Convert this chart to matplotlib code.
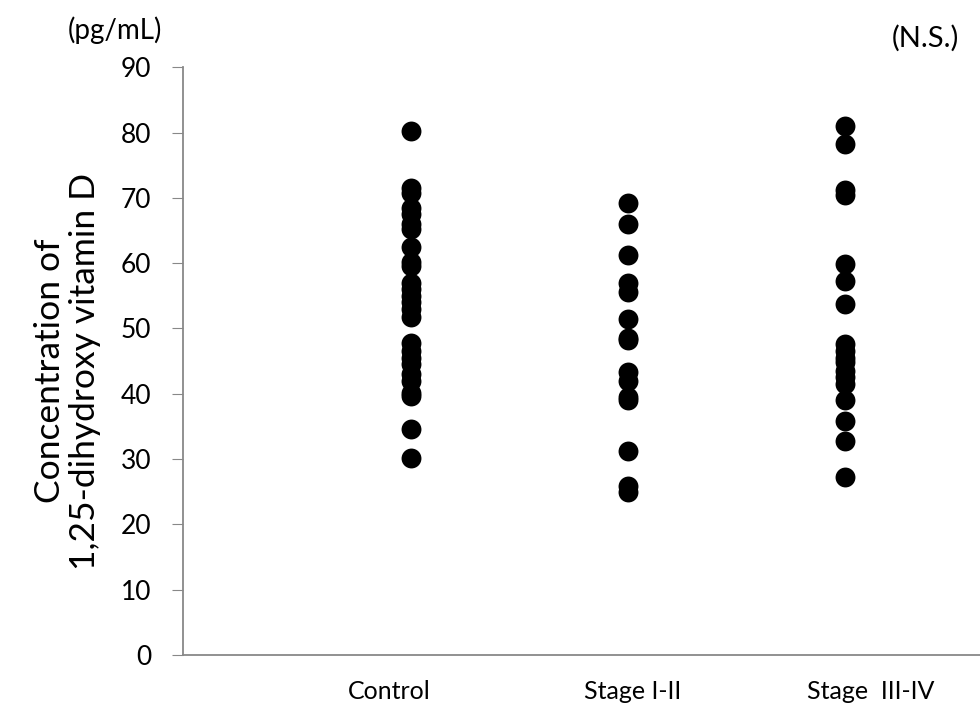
import matplotlib
matplotlib.use("Agg")
import matplotlib.pyplot as plt

# data
groups = ["Control", "Stage I-II", "Stage  III-IV"]
control = [80.3, 71.5, 70.8, 68.5, 67.5, 66.0, 65.2, 62.5, 60.2, 59.5, 57.0, 56.0, 55.0,
           54.0, 53.0, 51.7, 47.8, 46.5, 45.5, 44.5, 43.0, 42.0, 40.1, 39.6, 34.6, 30.2]
stage_1_2 = [69.2, 66.0, 61.2, 57.0, 55.6, 51.5, 48.5, 48.2, 43.3, 42.0, 39.5, 39.0,
             31.3, 25.9, 25.0]
stage_3_4 = [81.0, 78.3, 71.2, 70.5, 59.8, 57.2, 53.8, 47.6, 46.5, 45.5, 44.8, 43.5,
             42.5, 41.5, 39.0, 35.8, 32.7, 27.3]
yticks = list(range(0, 91, 10))

plt.rcParams['font.family'] = ['Lato', 'DejaVu Sans']

fig = plt.figure(figsize=(9.8, 7.22), dpi=100)
ax = fig.add_axes([0.1867, 0.0928, 0.813, 0.814])

for i, vals in enumerate([control, stage_1_2, stage_3_4]):
    ax.scatter([i + 1] * len(vals), vals, s=205, color='black', zorder=3, linewidths=0)

ax.set_xlim(-0.05, 3.62)
ax.set_ylim(0, 90)
ax.set_yticks(yticks)
ax.tick_params(axis='y', labelsize=19, length=8, color='#888888', pad=15)
ax.set_xticks([])
for side in ['top', 'right']:
    ax.spines[side].set_visible(False)
for side in ['left', 'bottom']:
    ax.spines[side].set_color('#888888')
    ax.spines[side].set_linewidth(1.3)

# category labels sit well below the axis, not exactly under the dots
label_x = [0.90, 2.02, 3.12]
for x, name in zip(label_x, groups):
    ax.text(x, -0.062, name, transform=ax.get_xaxis_transform(), ha='center', va='center',
            fontsize=18)

fig.text(0.069, 0.486, "Concentration of\n1,25-dihydroxy vitamin D", rotation=90,
         ha='center', va='center', fontsize=25.5, linespacing=1.1)
fig.text(0.117, 0.958, "(pg/mL)", ha='center', va='center', fontsize=20)
fig.text(0.944, 0.947, "(N.S.)", ha='center', va='center', fontsize=21)

fig.savefig("out.png", dpi=100)
